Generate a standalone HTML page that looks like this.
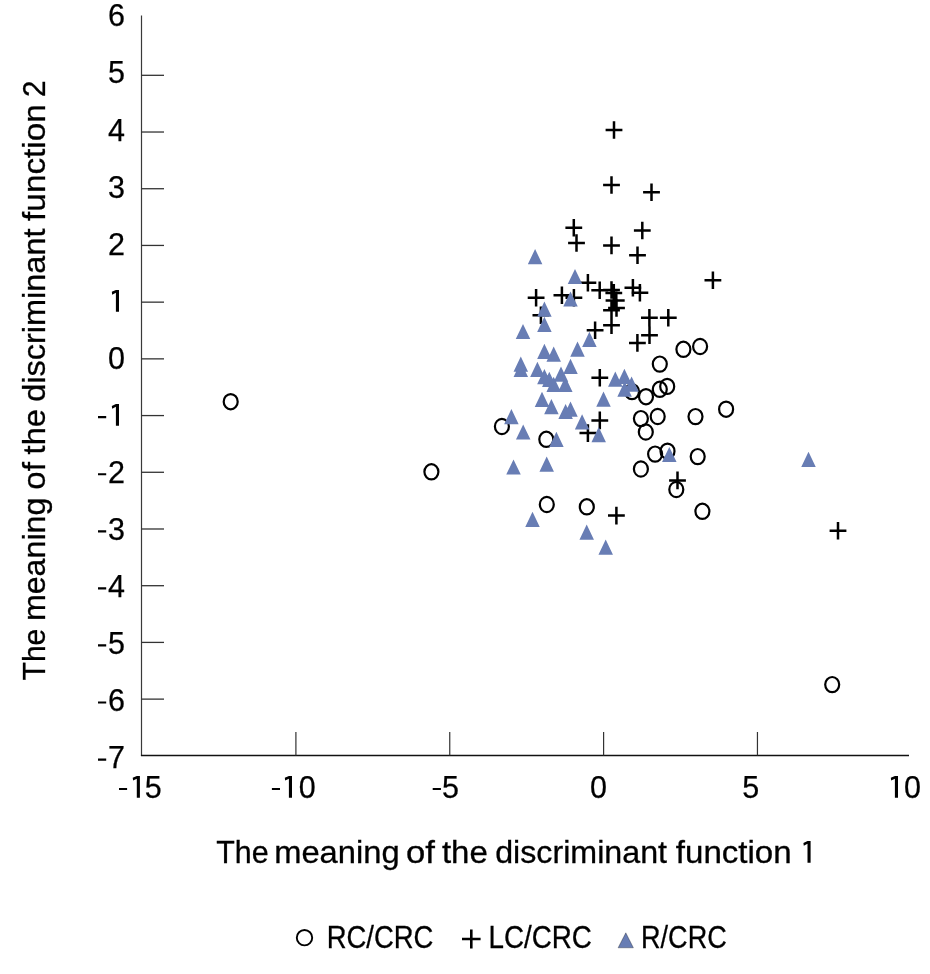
<!DOCTYPE html>
<html><head><meta charset="utf-8"><style>
html,body{margin:0;padding:0;background:#fff;width:930px;height:974px;overflow:hidden}
svg{display:block;will-change:transform}
</style></head><body>
<svg width="930" height="974" viewBox="0 0 930 974">
<rect width="930" height="974" fill="#fff"/>
<line x1="141.5" y1="15.5" x2="141.5" y2="755.5" stroke="#3a3a3a" stroke-width="1.2"/>
<line x1="140.9" y1="755.4" x2="909" y2="755.4" stroke="#111" stroke-width="1.5"/>
<line x1="141.4" y1="699.12" x2="164" y2="699.12" stroke="#333" stroke-width="1.3"/>
<line x1="141.4" y1="642.41" x2="164" y2="642.41" stroke="#333" stroke-width="1.3"/>
<line x1="141.4" y1="585.7" x2="164" y2="585.7" stroke="#333" stroke-width="1.3"/>
<line x1="141.4" y1="528.99" x2="164" y2="528.99" stroke="#333" stroke-width="1.3"/>
<line x1="141.4" y1="472.28" x2="164" y2="472.28" stroke="#333" stroke-width="1.3"/>
<line x1="141.4" y1="415.57" x2="164" y2="415.57" stroke="#333" stroke-width="1.3"/>
<line x1="141.4" y1="358.86" x2="164" y2="358.86" stroke="#333" stroke-width="1.3"/>
<line x1="141.4" y1="302.15" x2="164" y2="302.15" stroke="#333" stroke-width="1.3"/>
<line x1="141.4" y1="245.44" x2="164" y2="245.44" stroke="#333" stroke-width="1.3"/>
<line x1="141.4" y1="188.73" x2="164" y2="188.73" stroke="#333" stroke-width="1.3"/>
<line x1="141.4" y1="132.02" x2="164" y2="132.02" stroke="#333" stroke-width="1.3"/>
<line x1="141.4" y1="75.31" x2="164" y2="75.31" stroke="#333" stroke-width="1.3"/>
<line x1="295.9" y1="732" x2="295.9" y2="755.4" stroke="#333" stroke-width="1.2"/>
<line x1="449.75" y1="732" x2="449.75" y2="755.4" stroke="#333" stroke-width="1.2"/>
<line x1="603.6" y1="732" x2="603.6" y2="755.4" stroke="#333" stroke-width="1.2"/>
<line x1="757.45" y1="732" x2="757.45" y2="755.4" stroke="#333" stroke-width="1.2"/>
<g font-family="Liberation Sans" font-size="30.5" fill="#000" stroke="#000" stroke-width="0.25"><text x="125" y="768.29" text-anchor="end">7</text><text x="125" y="711.22" text-anchor="end">6</text><text x="125" y="654.15" text-anchor="end">5</text><text x="125" y="597.08" text-anchor="end">4</text><text x="125" y="540.01" text-anchor="end">3</text><text x="125" y="482.94" text-anchor="end">2</text><text x="125" y="368.8" text-anchor="end">0</text><text x="125" y="254.66" text-anchor="end">2</text><text x="125" y="197.59" text-anchor="end">3</text><text x="125" y="140.52" text-anchor="end">4</text><text x="125" y="83.45" text-anchor="end">5</text><text x="125" y="26.38" text-anchor="end">6</text><text x="161.7" y="797.7" text-anchor="end">5</text><text x="315.7" y="797.7" text-anchor="end">0</text><text x="459" y="797.7" text-anchor="end">5</text><text x="607" y="797.7" text-anchor="end">0</text><text x="759.3" y="797.7" text-anchor="end">5</text><text x="921" y="797.7" text-anchor="end">0</text></g>
<path d="M98 758.49H106.2V760.69H98ZM98 701.42H106.2V703.62H98ZM98 644.35H106.2V646.55H98ZM98 587.28H106.2V589.48H98ZM98 530.21H106.2V532.41H98ZM98 473.14H106.2V475.34H98ZM98 416.07H106.2V418.27H98ZM111.8 405.97L115.9 404.07L119 404.07L119 425.87L115.9 425.87L115.9 406.87L112.2 408.77ZM111.8 291.83L115.9 289.93L119 289.93L119 311.73L115.9 311.73L115.9 292.73L112.2 294.63ZM119 787.9H127.1V790.1H119ZM132.7 777.8L136.8 775.9L139.9 775.9L139.9 797.7L136.8 797.7L136.8 778.7L133.1 780.6ZM271.9 787.9H280V790.1H271.9ZM284.8 777.8L288.9 775.9L292 775.9L292 797.7L288.9 797.7L288.9 778.7L285.2 780.6ZM432.7 787.9H440.9V790.1H432.7ZM890.8 777.8L894.9 775.9L898 775.9L898 797.7L894.9 797.7L894.9 778.7L891.2 780.6ZM803.4 842.9L807.5 841L810.6 841L810.6 862.8L807.5 862.8L807.5 843.8L803.8 845.7Z" fill="#000"/>
<g font-family="Liberation Sans" font-size="31" fill="#000" stroke="#000" stroke-width="0.3"><text transform="translate(216.22,862.8) scale(0.9804,1.0)">The</text><text transform="translate(274.19,862.8) scale(1.0548,1.0)">meaning</text><text transform="translate(405.88,862.8) scale(1.1200,1.0)">of</text><text transform="translate(441.9,862.8) scale(1.0643,1.0)">the</text><text transform="translate(495.16,862.8) scale(1.0396,1.0)">discriminant</text><text transform="translate(675.8,862.8) scale(1.0673,1.0)">function</text></g>
<g font-family="Liberation Sans" font-size="31" fill="#000" stroke="#000" stroke-width="0.3" transform="translate(45,0) rotate(-90)"><text transform="translate(-680.47,0) scale(0.9706,1.0)">The</text><text transform="translate(-621.08,0) scale(1.0383,1.0)">meaning</text><text transform="translate(-489.77,0) scale(1.0680,1.0)">of</text><text transform="translate(-454.4,0) scale(1.0548,1.0)">the</text><text transform="translate(-401.85,0) scale(1.0482,1.0)">discriminant</text><text transform="translate(-220.9,0) scale(1.0748,1.0)">function</text><text transform="translate(-97.11,0) scale(0.9571,1.0)">2</text></g>
<g fill="none" stroke="#000" stroke-width="2.2"><ellipse cx="230.7" cy="401.7" rx="7.0" ry="7.6"/><ellipse cx="431.4" cy="471.8" rx="7.0" ry="7.6"/><ellipse cx="501.9" cy="426.5" rx="7.0" ry="7.6"/><ellipse cx="546.3" cy="439.3" rx="7.0" ry="7.6"/><ellipse cx="546.8" cy="504.5" rx="7.0" ry="7.6"/><ellipse cx="586.8" cy="506.8" rx="7.0" ry="7.6"/><ellipse cx="632" cy="391.6" rx="7.0" ry="7.6"/><ellipse cx="646" cy="396.7" rx="7.0" ry="7.6"/><ellipse cx="659.8" cy="364.1" rx="7.0" ry="7.6"/><ellipse cx="659.8" cy="389.3" rx="7.0" ry="7.6"/><ellipse cx="667.2" cy="386.4" rx="7.0" ry="7.6"/><ellipse cx="683.4" cy="349.3" rx="7.0" ry="7.6"/><ellipse cx="700.1" cy="346.5" rx="7.0" ry="7.6"/><ellipse cx="640.9" cy="418.6" rx="7.0" ry="7.6"/><ellipse cx="657.7" cy="416.5" rx="7.0" ry="7.6"/><ellipse cx="645.8" cy="432" rx="7.0" ry="7.6"/><ellipse cx="695.5" cy="416.6" rx="7.0" ry="7.6"/><ellipse cx="726.1" cy="409.2" rx="7.0" ry="7.6"/><ellipse cx="655.1" cy="454.1" rx="7.0" ry="7.6"/><ellipse cx="667.5" cy="451.2" rx="7.0" ry="7.6"/><ellipse cx="697.7" cy="456.6" rx="7.0" ry="7.6"/><ellipse cx="640.9" cy="469" rx="7.0" ry="7.6"/><ellipse cx="676.3" cy="489.5" rx="7.0" ry="7.6"/><ellipse cx="702.4" cy="511.3" rx="7.0" ry="7.6"/><ellipse cx="832.2" cy="684.6" rx="7.0" ry="7.6"/></g>
<path d="M605.6 130H622.4M614 121.2V138.8M603.1 185H619.9M611.5 176.2V193.8M643.1 192.3H659.9M651.5 183.5V201.1M565.4 227.8H582.2M573.8 219V236.6M633.9 230.5H650.7M642.3 221.7V239.3M568.1 243H584.9M576.5 234.2V251.8M603.1 245.4H619.9M611.5 236.6V254.2M629.1 255.3H645.9M637.5 246.5V264.1M704.5 280.3H721.3M712.9 271.5V289.1M579.5 282.7H596.3M587.9 273.9V291.5M591.3 290.2H608.1M599.7 281.4V299M603.1 290H619.9M611.5 281.2V298.8M605.4 292.9H622.2M613.8 284.1V301.7M605.6 300.4H622.4M614 291.6V309.2M607.9 300.4H624.7M616.3 291.6V309.2M608.1 307.9H624.9M616.5 299.1V316.7M603.1 310.3H619.9M611.5 301.5V319.1M603.1 325.2H619.9M611.5 316.4V334M624.5 287.7H641.3M632.9 278.9V296.5M631.5 292.7H648.3M639.9 283.9V301.5M553.5 295.2H570.3M561.9 286.4V304M527.7 297.7H544.5M536.1 288.9V306.5M565.5 297.8H582.3M573.9 289V306.6M532.5 315.2H549.3M540.9 306.4V324M586.7 330.2H603.5M595.1 321.4V339M641 317.7H657.8M649.4 308.9V326.5M659.9 317.7H676.7M668.3 308.9V326.5M641.1 335.3H657.9M649.5 326.5V344.1M629 342.9H645.8M637.4 334.1V351.7M591.4 377.8H608.2M599.8 369V386.6M591.4 420.4H608.2M599.8 411.6V429.2M579.5 433.1H596.3M587.9 424.3V441.9M669.1 480.4H685.9M677.5 471.6V489.2M608 515.6H624.8M616.4 506.8V524.4M829.6 530.7H846.4M838 521.9V539.5" stroke="#000" stroke-width="2.5" fill="none"/>
<path d="M535.1 249L542.35 264.2L527.85 264.2ZM575 268.9L582.25 284.1L567.75 284.1ZM570.5 291.4L577.75 306.6L563.25 306.6ZM544.4 301.6L551.65 316.8L537.15 316.8ZM544.4 316.7L551.65 331.9L537.15 331.9ZM523 323.9L530.25 339.1L515.75 339.1ZM589.4 331.7L596.65 346.9L582.15 346.9ZM544.4 343.7L551.65 358.9L537.15 358.9ZM553.7 346.5L560.95 361.7L546.45 361.7ZM577.5 341.5L584.75 356.7L570.25 356.7ZM520.8 356.5L528.05 371.7L513.55 371.7ZM520.8 361.7L528.05 376.9L513.55 376.9ZM537.4 361.7L544.65 376.9L530.15 376.9ZM544.4 369.1L551.65 384.3L537.15 384.3ZM549.3 371.7L556.55 386.9L542.05 386.9ZM561 366.6L568.25 381.8L553.75 381.8ZM570.5 358.7L577.75 373.9L563.25 373.9ZM553.7 376.7L560.95 391.9L546.45 391.9ZM565.3 376.7L572.55 391.9L558.05 391.9ZM542 391.7L549.25 406.9L534.75 406.9ZM551.4 399L558.65 414.2L544.15 414.2ZM565.6 403.9L572.85 419.1L558.35 419.1ZM570.5 401.6L577.75 416.8L563.25 416.8ZM511.4 409.1L518.65 424.3L504.15 424.3ZM582.1 414.2L589.35 429.4L574.85 429.4ZM523.2 424.4L530.45 439.6L515.95 439.6ZM556.4 431.8L563.65 447L549.15 447ZM598.7 427L605.95 442.2L591.45 442.2ZM513.5 459.4L520.75 474.6L506.25 474.6ZM546.7 456.6L553.95 471.8L539.45 471.8ZM532.5 511.7L539.75 526.9L525.25 526.9ZM586.7 524.6L593.95 539.8L579.45 539.8ZM605.7 539.5L612.95 554.7L598.45 554.7ZM615.3 371.5L622.55 386.7L608.05 386.7ZM624.4 368.8L631.65 384L617.15 384ZM631.6 376.6L638.85 391.8L624.35 391.8ZM624.6 381.6L631.85 396.8L617.35 396.8ZM603.5 391.6L610.75 406.8L596.25 406.8ZM669.3 446.9L676.55 462.1L662.05 462.1ZM808.5 451.7L815.75 466.9L801.25 466.9Z" fill="#687db4"/>
<g font-family="Liberation Sans" font-size="31" fill="#000" stroke="#000" stroke-width="0.3"><ellipse cx="304.5" cy="937.7" rx="7.7" ry="7.7" fill="none" stroke="#000" stroke-width="1.9"/><text transform="translate(326.74,947.8) scale(0.8853,1.0)">RC/CRC</text><path d="M462 939H480.6M471.3 929.6V948.5" stroke="#000" stroke-width="2.6"/><text transform="translate(488.61,947.8) scale(0.8955,1.0)">LC/CRC</text><path d="M625.8 932.8L633.4 947.8L618.1 947.8Z" fill="#687db4"/><text transform="translate(641.08,947.8) scale(0.8723,1.0)">R/CRC</text></g>
</svg>
</body></html>
